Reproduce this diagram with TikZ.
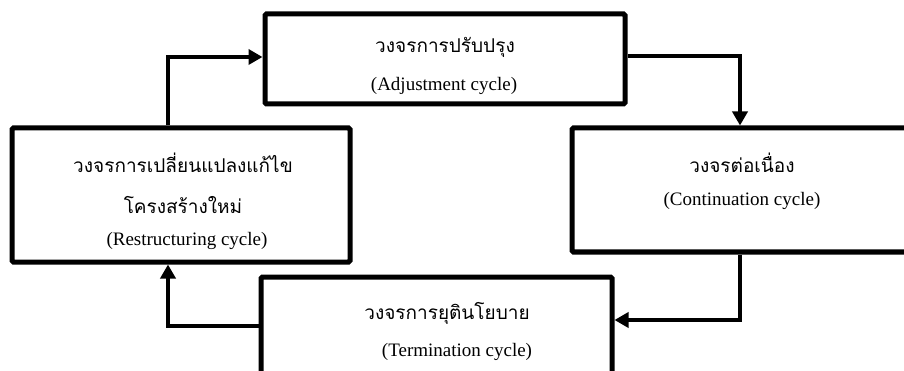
\documentclass[tikz,border=0pt]{standalone}
\usepackage{fontspec}
\setmainfont{Liberation Serif}
\newfontfamily\thaifont[Script=Thai]{Loma}
\usetikzlibrary{arrows.meta}
\begin{document}
\begin{tikzpicture}[x=1pt,y=-1pt,
  box/.style={draw, line width=5pt, rounded corners=1.5pt, inner sep=0pt},
  conn/.style={line width=4.8pt, line join=miter, -{Triangle[length=14pt,width=15pt]}},
  th/.style={inner sep=0pt, font=\thaifont\fontsize{19}{22}\selectfont},
  en/.style={inner sep=0pt, font=\fontsize{19}{22}\selectfont}]
\useasboundingbox (0,0) rectangle (904,371);
% boxes
\node[box, minimum width=360pt, minimum height=90pt]  (adj) at (445,59) {};
\node[box, minimum width=338pt, minimum height=134pt] (res) at (181,195) {};
\node[box, minimum width=340pt, minimum height=124pt] (con) at (742,190) {};
\node[box, minimum width=351pt, minimum height=146pt] (ter) at (436.5,350) {};
% texts
\node[th] (adjT) at (445,47) {วงจรการปรับปรุง};
\node[en] (adjE) at (444,86) {(Adjustment cycle)};
\node[th] (resT1) at (183,163) {วงจรการเปลี่ยนแปลงแก้ไข};
\node[th] (resT2) at (183,205) {โครงสร้างใหม่};
\node[en] (resE) at (187,241) {(Restructuring cycle)};
\node[th] (conT) at (742,163) {วงจรต่อเนื่อง};
\node[en] (conE) at (742,201) {(Continuation cycle)};
\node[th] (terT) at (447,313) {วงจรการยุตินโยบาย};
\node[en] (terE) at (457,352) {(Termination cycle)};
% elbows
\coordinate (e1) at (168,57);
\coordinate (e2) at (740,56);
\coordinate (e3) at (740,320);
\coordinate (e4) at (168,326);
% connectors
\draw[conn] (res.north -| e1) -- (e1) -- (e1 -| adj.west);
\draw[conn] (e2 -| adj.east) -- (e2) -- (e2 |- con.north);
\draw[conn] (e3 |- con.south) -- (e3) -- (e3 -| ter.east);
\draw[conn] (e4 -| ter.west) -- (e4) -- (e4 |- res.south);
\end{tikzpicture}
\end{document}
